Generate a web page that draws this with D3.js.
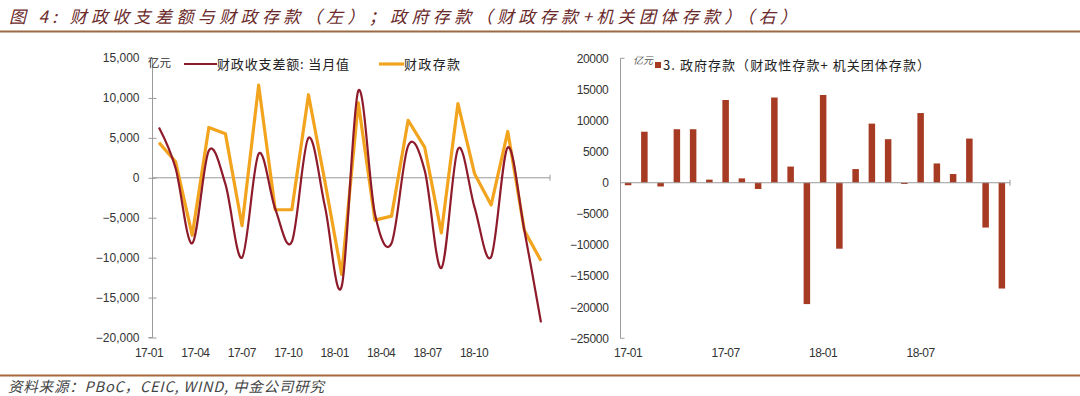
<!DOCTYPE html>
<html><head><meta charset="utf-8">
<script src="https://cdn.jsdelivr.net/npm/d3@7"></script>
<style>
body{margin:0;background:#fff;}
svg{display:block;}
</style></head>
<body>
<svg id="c" width="1080" height="396"></svg>
<script>
const months = ["17-01","17-02","17-03","17-04","17-05","17-06","17-07","17-08","17-09","17-10","17-11","17-12",
                "18-01","18-02","18-03","18-04","18-05","18-06","18-07","18-08","18-09","18-10","18-11","18-12"];
const balance = [6300, 1200, -8200, 3400, -800, -10000, 3000, -3900, -8000, 5000, -3700, -13600,
                 10900, -4500, -8200, 4000, 900, -11300, 3600, -3700, -9900, 3800, -6600, -18100];
const fiscalDeposit = [4400, 2000, -7200, 6300, 5500, -6000, 11600, -4000, -4000, 10400, -600, -12100,
                       9400, -5300, -4800, 7200, 3800, -6900, 9300, 500, -3400, 5800, -6600, -10400];
const govDeposit = [-400, 8200, -600, 8600, 8600, 500, 13300, 700, -1000, 13700, 2600, -19500,
                    14100, -10600, 2200, 9500, 7000, -200, 11200, 3100, 1400, 7100, -7200, -17000];
const leftTicks = [15000, 10000, 5000, 0, -5000, -10000, -15000, -20000];
const leftXLabels = ["17-01","17-04","17-07","17-10","18-01","18-04","18-07","18-10"];
const rightTicks = [20000, 15000, 10000, 5000, 0, -5000, -10000, -15000, -20000, -25000];
const rightXLabels = ["17-01","17-07","18-01","18-07"];

const svg = d3.select("#c");
const axisColor = "#9a9a9a";
const textColor = "#333";
const tickFont = "'Liberation Sans', Arial, sans-serif";
const cjk = "'Noto Sans CJK SC', sans-serif";

// Title
svg.append("text").attr("x", 9).attr("y", 23).attr("textLength", 788).attr("lengthAdjust", "spacing")
  .attr("font-family", cjk).attr("font-size", 17)
  .attr("font-style", "italic").attr("fill", "#6a2a2a")
  .text("图 4: 财政收支差额与财政存款（左）；政府存款（财政存款+机关团体存款）（右）");
svg.append("line").attr("x1", 0).attr("x2", 1080).attr("y1", 31.5).attr("y2", 31.5)
  .attr("stroke", "#9c6a45").attr("stroke-width", 2);
// Footer
svg.append("line").attr("x1", 0).attr("x2", 1080).attr("y1", 375.5).attr("y2", 375.5)
  .attr("stroke", "#a8683a").attr("stroke-width", 2);
svg.append("text").attr("x", 8).attr("y", 392).attr("textLength", 316).attr("lengthAdjust", "spacing")
  .attr("font-family", cjk).attr("font-size", 14.5)
  .attr("font-style", "italic").attr("fill", "#444")
  .text("资料来源：PBoC，CEIC, WIND, 中金公司研究");

// ---------- Left chart ----------
const xL = d3.scalePoint().domain(months).range([159, 541]);
const yL = d3.scaleLinear().domain([-20000, 15000]).range([337.5, 58]);
const xLab = d3.scalePoint().domain(leftXLabels).range([149, 474]);

const gL = svg.append("g");
const yAxisL = d3.axisLeft(yL).tickValues(leftTicks).tickSize(4).tickPadding(9)
  .tickFormat(d3.format(","));
gL.append("g").attr("transform", "translate(152.5,0)").call(yAxisL)
  .call(g => g.select(".domain").attr("stroke", axisColor).attr("d", `M-4,${yL(15000)}H0V${yL(-20000)}H-4`))
  .call(g => g.selectAll(".tick line").attr("stroke", axisColor).attr("x2", 4).attr("x1", -4))
  .call(g => g.selectAll(".tick text").attr("fill", textColor).attr("font-size", 12).attr("font-family", tickFont));
gL.append("line").attr("x1", 152).attr("x2", 550).attr("y1", yL(0)).attr("y2", yL(0))
  .attr("stroke", axisColor).attr("stroke-width", 1);
gL.append("line").attr("x1", 550).attr("x2", 550).attr("y1", yL(0) - 3).attr("y2", yL(0) + 3)
  .attr("stroke", axisColor);
gL.selectAll(".xl").data(leftXLabels).enter().append("text")
  .attr("x", d => xLab(d)).attr("y", 357).attr("text-anchor", "middle")
  .attr("font-size", 12).attr("font-family", tickFont).attr("fill", textColor)
  .attr("letter-spacing", -0.5).text(d => d);

const lineOrange = d3.line().x((d, i) => xL(months[i])).y(d => yL(d));
gL.append("path").datum(fiscalDeposit).attr("d", lineOrange)
  .attr("fill", "none").attr("stroke", "#f2a41e").attr("stroke-width", 3.2).attr("stroke-linejoin", "round");
const lineRed = d3.line().curve(d3.curveCardinal.tension(0)).x((d, i) => xL(months[i])).y(d => yL(d));
gL.append("path").datum(balance).attr("d", lineRed)
  .attr("fill", "none").attr("stroke", "#8e1b2b").attr("stroke-width", 2.2);

// Left legend
gL.append("text").attr("x", 148).attr("y", 67).attr("font-size", 11.5)
  .attr("font-family", cjk).attr("fill", textColor).text("亿元");
gL.append("line").attr("x1", 184).attr("x2", 217).attr("y1", 64).attr("y2", 64)
  .attr("stroke", "#8e1b2b").attr("stroke-width", 2.2);
gL.append("text").attr("x", 217).attr("y", 69).attr("font-size", 13).attr("textLength", 132).attr("lengthAdjust", "spacing")
  .attr("font-family", cjk).attr("fill", "#222").text("财政收支差额: 当月值");
gL.append("line").attr("x1", 379).attr("x2", 404).attr("y1", 64).attr("y2", 64)
  .attr("stroke", "#f2a41e").attr("stroke-width", 3.2);
gL.append("text").attr("x", 404).attr("y", 69).attr("font-size", 13).attr("textLength", 56).attr("lengthAdjust", "spacing")
  .attr("font-family", cjk).attr("fill", "#222").text("财政存款");

// ---------- Right chart ----------
const xR = d3.scaleBand().domain(months).range([620, 1010]).paddingInner(0.6).paddingOuter(0.3);
const yR = d3.scaleLinear().domain([-25000, 20000]).range([338.3, 58.3]);
const gR = svg.append("g");
const yAxisR = d3.axisLeft(yR).tickValues(rightTicks).tickSize(4).tickPadding(8).tickFormat(d3.format("d"));
gR.append("g").attr("transform", "translate(620.5,0)").call(yAxisR)
  .call(g => g.select(".domain").attr("stroke", axisColor).attr("d", `M4,${yR(20000)}H0V${yR(-25000)}H4`))
  .call(g => g.selectAll(".tick line").attr("stroke", axisColor).attr("x1", 0).attr("x2", 0))
  .call(g => g.selectAll(".tick text").attr("fill", textColor).attr("font-size", 12).attr("font-family", tickFont).attr("letter-spacing", -0.3));

gR.selectAll(".bar").data(govDeposit).enter().append("rect")
  .attr("x", (d, i) => xR(months[i])).attr("width", xR.bandwidth())
  .attr("y", d => yR(Math.max(0, d))).attr("height", d => Math.abs(yR(d) - yR(0)))
  .attr("fill", "#a63a22");
gR.append("line").attr("x1", 620).attr("x2", 1010).attr("y1", yR(0)).attr("y2", yR(0))
  .attr("stroke", axisColor).attr("stroke-width", 1);
gR.append("line").attr("x1", 1010).attr("x2", 1010).attr("y1", yR(0) - 3).attr("y2", yR(0) + 3)
  .attr("stroke", axisColor);
gR.selectAll(".xr").data(rightXLabels).enter().append("text")
  .attr("x", d => xR(d) + xR.bandwidth() / 2).attr("y", 357).attr("text-anchor", "middle")
  .attr("font-size", 12).attr("font-family", tickFont).attr("fill", textColor)
  .attr("letter-spacing", -0.5).text(d => d);

// Right legend
gR.append("text").attr("x", 633).attr("y", 64).attr("font-size", 10).attr("font-style", "italic")
  .attr("font-family", cjk).attr("fill", "#555").text("亿元");
gR.append("rect").attr("x", 655).attr("y", 62).attr("width", 6).attr("height", 6).attr("fill", "#a63a22");
gR.append("text").attr("x", 663).attr("y", 70).attr("font-size", 13).attr("textLength", 267).attr("lengthAdjust", "spacing")
  .attr("font-family", cjk).attr("fill", "#222")
  .text("3. 政府存款（财政性存款+ 机关团体存款）");
</script>
</body></html>
